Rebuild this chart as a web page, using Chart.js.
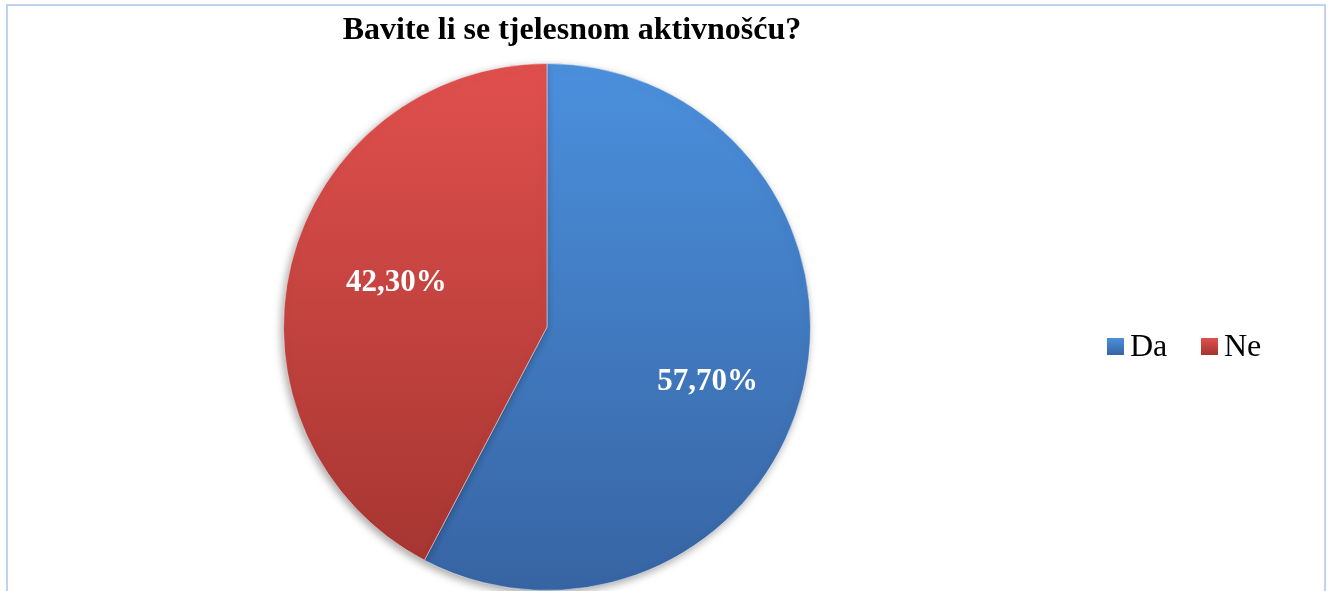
<!DOCTYPE html>
<html>
<head>
<meta charset="utf-8">
<script src="https://cdn.jsdelivr.net/npm/chart.js@4"></script>
<style>
    html, body { margin: 0; padding: 0; background: #fff; overflow: hidden; }
    #frame { position: absolute; left: 6px; top: 4px; width: 1316px; height: 600px;
             border: 2px solid #bed3ee; border-bottom: none; }
    #wrap { position: absolute; left: 0; top: 0; width: 1330px; height: 591px; }
</style>
</head>
<body>
<div id="frame"></div>
<div id="wrap"><canvas id="chart"></canvas></div>
<script>
// chart data
var chartTitle = 'Bavite li se tjelesnom aktivnošću?';
var labels = ['Da', 'Ne'];
var values = [57.7, 42.3];
var valueLabels = ['57,70%', '42,30%'];
var colorsLight = ['#4b90dd', '#e0504d'];
var colorsDark = ['#3764a3', '#a33430'];

function sliceFill(context) {
    let chart = context.chart;
    let area = chart.chartArea;
    let i = context.dataIndex;
    if (!area) {
        return colorsLight[i];
    }
    let g = chart.ctx.createLinearGradient(0, area.top, 0, area.bottom);
    g.addColorStop(0, colorsLight[i]);
    g.addColorStop(1, colorsDark[i]);
    return g;
}

// Draws the title, the legend row and the percent labels
var textPlugin = {
    id: 'textPlugin',
    beforeDatasetsDraw: function (chart) {
        let ctx = chart.ctx;
        ctx.save();
        ctx.shadowColor = 'rgba(0,0,0,0.35)';
        ctx.shadowBlur = 8;
        ctx.shadowOffsetX = -2;
        ctx.shadowOffsetY = 3;
    },
    afterDatasetsDraw: function (chart) {
        let ctx = chart.ctx;
        ctx.restore();
        let meta = chart.getDatasetMeta(0);

        ctx.save();
        ctx.fillStyle = '#fff';
        ctx.font = 'bold 31px "Liberation Serif", "Times New Roman", serif';
        ctx.textAlign = 'center';
        ctx.textBaseline = 'middle';
        meta.data.forEach(function (arc, i) {
            let mid = (arc.startAngle + arc.endAngle) / 2;
            let r = arc.outerRadius * 0.62;
            let x = arc.x + Math.cos(mid) * r + (i == 0 ? 2 : 8);
            let y = arc.y + Math.sin(mid) * r + (i == 0 ? 16 : -5);
            ctx.fillText(valueLabels[i], x, y);
        });

        // title
        ctx.fillStyle = '#000';
        ctx.font = 'bold 32px "Liberation Serif", "Times New Roman", serif';
        ctx.fillText(chartTitle, 572, 31);

        // legend
        let legendX = [1107, 1201];
        ctx.font = '32px "Liberation Serif", "Times New Roman", serif';
        ctx.textAlign = 'left';
        labels.forEach(function (label, i) {
            let x = legendX[i];
            let y = 338;
            let g = ctx.createLinearGradient(0, y, 0, y + 17);
            g.addColorStop(0, colorsLight[i]);
            g.addColorStop(1, colorsDark[i]);
            ctx.fillStyle = g;
            ctx.fillRect(x, y, 17, 17);
            ctx.fillStyle = '#000';
            ctx.fillText(label, x + 23, y + 10);
        });
        ctx.restore();
    }
};

new Chart(document.getElementById('chart'), {
    type: 'pie',
    data: {
        labels: labels,
        datasets: [{
            data: values,
            backgroundColor: sliceFill,
            borderColor: 'rgba(255,255,255,0.45)',
            borderWidth: 1
        }]
    },
    options: {
        responsive: true,
        maintainAspectRatio: false,
        animation: false,
        layout: {
            padding: { left: 283, right: 519, top: 63, bottom: 0 }
        },
        plugins: {
            legend: { display: false },
            title: { display: false },
            tooltip: { enabled: false }
        }
    },
    plugins: [textPlugin]
});
</script>
</body>
</html>
